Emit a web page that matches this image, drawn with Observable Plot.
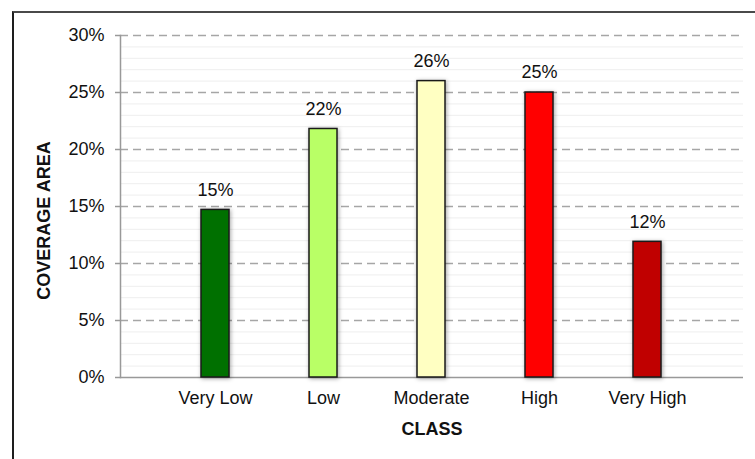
<!DOCTYPE html>
<html>
<head>
<meta charset="utf-8">
<script src="https://cdn.jsdelivr.net/npm/d3@7"></script>
<script src="https://cdn.jsdelivr.net/npm/@observablehq/plot@0.6"></script>
<style>
  html, body { margin: 0; padding: 0; background: #fff; overflow: hidden; }
  #wrap { position: relative; width: 755px; height: 459px; }
  #box {
    position: absolute; left: 12px; top: 11px; width: 760px; height: 470px;
    border-top: 2px solid #4a4a4a; border-left: 2px solid #1e1e1e;
    pointer-events: none;
  }
  #wrap svg { position: absolute; left: 0; top: 0; }
</style>
</head>
<body>
<div id="wrap"><div id="box"></div></div>
<script>
// Share of the mapped area falling in each susceptibility class (%)
const classes = ["Very Low", "Low", "Moderate", "High", "Very High"];
const coverage = [14.7, 21.8, 26.0, 25.0, 11.9];
const barColors = ["#007000", "#b9ff66", "#ffffc2", "#ff0000", "#c00000"];
const yTicks = [0, 5, 10, 15, 20, 25, 30];
const minorGrid = [1, 2, 3, 4, 6, 7, 8, 9, 11, 12, 13, 14, 16, 17, 18, 19, 21, 22, 23, 24, 26, 27, 28, 29];

const rows = classes.map((c, i) => ({cls: c, value: coverage[i], color: barColors[i]}));

const chart = Plot.plot({
  width: 755,
  height: 459,
  marginLeft: 120,
  marginRight: 12,
  marginTop: 35,
  marginBottom: 82,
  style: {fontFamily: "'Liberation Sans', Arial, sans-serif", fontSize: "18px", color: "#111", background: "transparent"},
  x: {domain: classes, padding: 0.74, label: null},
  y: {domain: [0, 30], label: null},
  marks: [
    // faint minor gridlines every 1%
    Plot.ruleY(minorGrid, {stroke: "#eeeeee", strokeWidth: 1}),
    // dashed major gridlines every 5%
    Plot.ruleY(yTicks.filter(d => d > 0), {stroke: "#a6a6a6", strokeWidth: 1.5, strokeDasharray: "8,5"}),
    Plot.axisY({
      ticks: yTicks, tickFormat: d => d + "%", tickSize: 5, tickPadding: 11,
      stroke: "#999", strokeWidth: 1.5, label: null, fontSize: 18
    }),
    Plot.axisX({tickSize: 0, tickPadding: 14, label: null, fontSize: 18}),
    Plot.frame({anchor: "left", stroke: "#999", strokeWidth: 1.5}),
    Plot.ruleY([0], {stroke: "#999", strokeWidth: 1.5}),
    Plot.barY(rows, {
      x: "cls", y: "value", fill: d => d.color,
      stroke: "#1a1a1a", strokeWidth: 1.5,
      imageFilter: "drop-shadow(1px 1px 2px rgba(0,0,0,0.35))"
    }),
    Plot.text(rows, {x: "cls", y: "value", text: d => Math.round(d.value) + "%", dy: -20, fontSize: 18, fill: "#111"}),
    Plot.text(["CLASS"], {frameAnchor: "bottom", dy: 57, fontWeight: "bold", fontSize: 18, fill: "#111"}),
    Plot.text(["COVERAGE AREA"], {
      frameAnchor: "left", textAnchor: "middle", dx: -76, dy: 14, rotate: -90,
      fontWeight: "bold", fontSize: 18, fill: "#111"
    })
  ]
});

document.getElementById("wrap").appendChild(chart);
</script>
</body>
</html>
